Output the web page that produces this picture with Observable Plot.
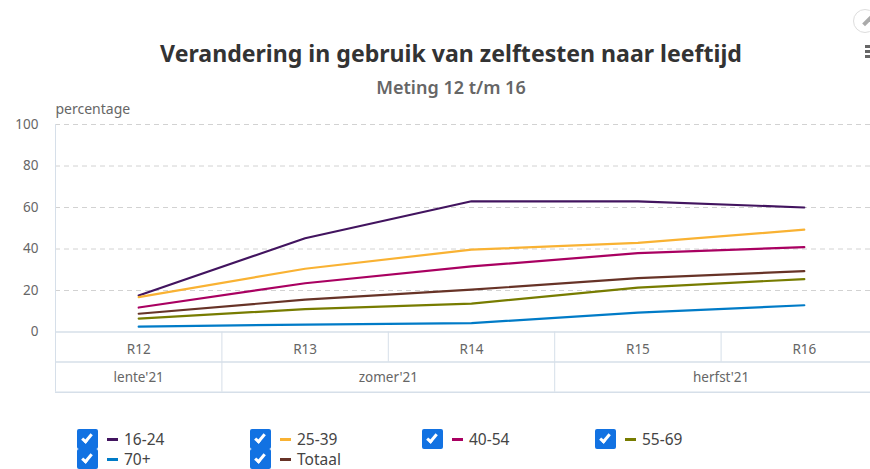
<!DOCTYPE html>
<html lang="nl">
<head>
<meta charset="utf-8">
<script src="https://cdn.jsdelivr.net/npm/d3@7"></script>
<script src="https://cdn.jsdelivr.net/npm/@observablehq/plot@0.6"></script>
<style>
  html, body { margin: 0; padding: 0; background: #fff; overflow: hidden; }
  body { width: 870px; height: 469px; position: relative; font-family: "Noto Sans", sans-serif; }
  #head { height: 100px; position: relative; }
  #title { position: absolute; left: 0; width: 902px; top: 36px; text-align: center; font-size: 23.1px; line-height: 34px; font-weight: 700; color: #333; white-space: nowrap; }
  #subtitle { position: absolute; left: 0; width: 902px; top: 75px; text-align: center; font-size: 18px; line-height: 24px; font-weight: 600; color: #666; white-space: nowrap; }
  #chart svg { display: block; }
  #legend { position: relative; height: 69px; }
  .item { position: absolute; height: 20px; display: flex; align-items: center; font-size: 15.5px; line-height: 20px; color: #444; }
  .box { position: relative; width: 21px; height: 20px; border-radius: 2px; background: #1272e2; flex: none; }
  .box::after { content: ""; position: absolute; left: 7px; top: 3px; width: 6px; height: 11px; border: solid #fff; border-width: 0 3px 3px 0; transform: rotate(40deg); box-sizing: border-box; }
  .swatch { width: 11px; height: 3px; margin: 0 6px 0 9px; flex: none; }
  #pencil { position: absolute; left: 853px; top: 9px; width: 24px; height: 24px; border: 1.5px solid #ddd; border-radius: 50%; box-sizing: border-box; }
  #pencil i { position: absolute; left: 8px; top: 9px; width: 11px; height: 4px; background: #aaa; transform: rotate(-45deg); }
  .bar { position: absolute; left: 865px; width: 6px; height: 3px; background: #666; }
</style>
</head>
<body>
<div id="head">
  <div id="title">Verandering in gebruik van zelftesten naar leeftijd</div>
  <div id="subtitle">Meting 12 t/m 16</div>
  <div id="pencil"><i></i></div>
  <div class="bar" style="top:45px"></div><div class="bar" style="top:50px"></div><div class="bar" style="top:55px"></div>
</div>
<div id="chart"></div>
<div id="legend"></div>
<script>
const rounds = ["R12", "R13", "R14", "R15", "R16"];
const seasons = ["lente'21", "zomer'21", "herfst'21"];
const seasonCentres = [0, 1.5, 3.5];
const yTicks = [0, 20, 40, 60, 80, 100];
const groups = ["16-24", "25-39", "40-54", "55-69", "70+", "Totaal"];
const colors = ["#42145f", "#f9b233", "#a90061", "#777c00", "#007bc7", "#673327"];
const v1624 = [17.6, 45.2, 63, 63, 60];
const v2539 = [16.8, 30.5, 39.7, 43, 49.3];
const v4054 = [11.8, 23.5, 31.6, 38, 40.9];
const v5569 = [6.5, 11, 13.7, 21.4, 25.5];
const v70 = [2.6, 3.6, 4.3, 9.3, 12.9];
const vTotaal = [8.8, 15.6, 20.4, 26, 29.3];
const seriesValues = [v1624, v2539, v4054, v5569, v70, vTotaal];
const longBoundaries = [0.5, 2.5];
const shortBoundaries = [1.5, 3.5];

const rows = groups.flatMap((g, i) => seriesValues[i].map((v, r) => ({group: g, r, v})));
const gridColor = "#d6dfe9";
const textColor = "#666";

const plot = Plot.plot({
  width: 870,
  height: 300,
  marginLeft: 0, marginRight: 0, marginTop: 0, marginBottom: 0,
  style: {fontFamily: '"Noto Sans", sans-serif', fontSize: "13px", background: "#fff", overflow: "hidden"},
  x: {type: "linear", domain: [-0.5, 4.5], range: [55, 887], axis: null},
  y: {type: "linear", domain: [-29, 100], range: [291.7, 24], axis: null},
  color: {type: "ordinal", domain: groups, range: colors},
  marks: [
    Plot.ruleY(yTicks.slice(1), {x1: -0.5, x2: 4.5, stroke: "#d2d2d2", strokeWidth: 1, strokeDasharray: "5,4"}),
    Plot.ruleY([0, -14.5, -29], {x1: -0.5, x2: 4.5, stroke: gridColor, strokeWidth: 1.5}),
    Plot.ruleX([-0.5], {y1: -29, y2: 100, stroke: gridColor}),
    Plot.ruleX(longBoundaries, {y1: -29, y2: 0, stroke: gridColor}),
    Plot.ruleX(shortBoundaries, {y1: -14.5, y2: 0, stroke: gridColor}),
    Plot.text(yTicks, {x: -0.5, y: d => d, text: d => String(d), dx: -17, textAnchor: "end", fill: textColor, fontSize: 13.5}),
    Plot.text(["percentage"], {x: -0.5, y: 100, dy: -15, textAnchor: "start", fill: textColor, fontSize: 14}),
    Plot.text(rounds, {x: (d, i) => i, y: -8.5, text: d => d, fill: textColor, fontSize: 13.5}),
    Plot.text(seasons, {x: (d, i) => seasonCentres[i], y: -22, text: d => d, fill: textColor, fontSize: 13.5}),
    Plot.line(rows, {x: "r", y: "v", stroke: "group", z: "group", strokeWidth: 2.2, curve: "linear"})
  ]
});
document.getElementById("chart").append(plot);

const columns = [77, 250, 422, 595];
const legend = document.getElementById("legend");
groups.forEach((g, i) => {
  const item = document.createElement("div");
  item.className = "item";
  item.style.left = columns[i % 4] + "px";
  item.style.top = (i < 4 ? 29 : 49) + "px";
  item.innerHTML = `<span class="box"></span><span class="swatch" style="background:${colors[i]}"></span><span>${g}</span>`;
  legend.append(item);
});
</script>
</body>
</html>
